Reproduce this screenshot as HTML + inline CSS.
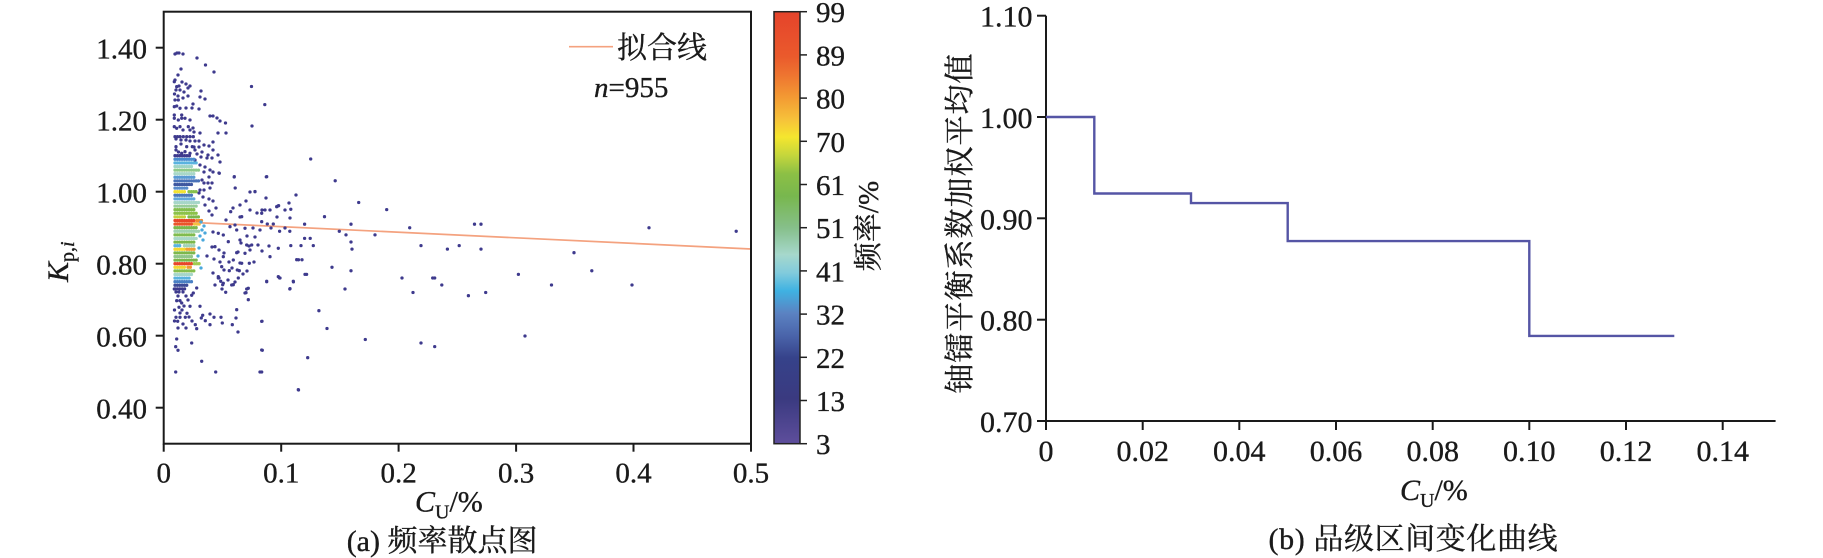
<!DOCTYPE html>
<html><head><meta charset="utf-8">
<style>
html,body{margin:0;padding:0;background:#fff;}
svg{display:block;}
text{font-family:"Liberation Serif","Noto Serif CJK SC",serif;fill:#1a1a1a;stroke:#1a1a1a;stroke-width:0.35;}
</style></head><body>
<svg width="1823" height="558" viewBox="0 0 1823 558" xmlns="http://www.w3.org/2000/svg">
<defs>
<linearGradient id="cb" x1="0" y1="0" x2="0" y2="1">
<stop offset="0" stop-color="#e5432b"/>
<stop offset="0.104" stop-color="#ea5a2c"/>
<stop offset="0.146" stop-color="#ee7430"/>
<stop offset="0.198" stop-color="#f39a33"/>
<stop offset="0.25" stop-color="#f6c23a"/>
<stop offset="0.29" stop-color="#f5e62e"/>
<stop offset="0.333" stop-color="#c4d63c"/>
<stop offset="0.375" stop-color="#8cc045"/>
<stop offset="0.427" stop-color="#78b74e"/>
<stop offset="0.5" stop-color="#86bf8a"/>
<stop offset="0.5625" stop-color="#a6d8cc"/>
<stop offset="0.604" stop-color="#82cbdc"/>
<stop offset="0.646" stop-color="#3fb2e2"/>
<stop offset="0.698" stop-color="#5b82c2"/>
<stop offset="0.75" stop-color="#4a64aa"/>
<stop offset="0.802" stop-color="#36428a"/>
<stop offset="0.896" stop-color="#3a3a80"/>
<stop offset="1" stop-color="#5e4e9c"/>
</linearGradient>
</defs>

<!-- ===== LEFT CHART ===== -->
<line x1="175" y1="221.6" x2="751" y2="249" stroke="#f4a27f" stroke-width="1.7"/>

<path fill="none" stroke="#3e3a8d" stroke-width="3.3" stroke-linecap="round" d="
M175,54h0M177,53h0M179,53h0M183,54h0M197,58h0M205.5,65h0M214,72h0M181,69h0M178,75h0M175,80h0M174.3,81.7h0M176.7,86.7h0M179,86h0M182,82h0M186,84h0M188,88h0M190,86h0M180,90h0M176,90h0M184,92h0M174.5,94h0M178,96h0M183,98h0M188,96h0M200,97h0M205,99h0M201,91h0M175,100h0M178.3,100h0M174.3,106.7h0M176.7,106h0M180,108.3h0M186,108h0M192,108h0M193,104h0M199,109h0M174.3,115h0M181.7,115h0M174.3,118.3h0M178.3,120h0M181.7,118.3h0M185,118.3h0M190,120h0M210,116h0M213,116h0M217,118h0M220,121h0M225.5,123h0M174.3,126.7h0M176.7,128.3h0M180,126.7h0M188.3,126.7h0M190,130h0M193,128h0M183,130h0M226,133h0M218,133h0M194,132h0M200,133h0M175,136.7h0M177.5,136.7h0M180,136.7h0M183.3,136.7h0M186.7,136.7h0M190,136.7h0M193.3,136.7h0M176,139h0M181,140h0M186,140h0M190,141h0M195,141h0M199,141h0M176,146.7h0M181,144h0M186.7,146.7h0M192.3,146.7h0M194,147h0M199,147h0M204,145h0M209,146h0M213,142h0M195,150h0M181.7,153.3h0M185,151.7h0M190,153.3h0M176,150h0M178.5,152h0M197,154h0M202,152h0M208,155h0M213,150h0M218,155h0M201,157h0M207,158h0M212,158h0M220,162h0M195,160h0M200,165h0M205,167h0M210,170h0M204,172h0M213,172h0M219,173h0M209,177h0M202,180h0M204,183h0M208,183h0M212,183h0M200,190h0M204,190h0M210,188h0M199,193h0M203,197h0M209,199h0M213,201h0M216,208h0M205,205h0M209,211h0M212,215h0M251.5,86.5h0M264.8,104.6h0M252,126h0M266.3,176.9h0M255,191.5h0M235.2,188h0M234.2,177h0
M175,155.7h0M177.4,155.7h0M179.8,155.7h0M182.2,155.7h0M184.6,155.7h0M187,155.7h0M189.4,155.7h0
M234.3,176.7h0M266.7,176.7h0M255,191.7h0M219.3,173.3h0M240,205h0M250,210h0M261.7,213.3h0M265,210h0M276.7,206.7h0M230.7,211.7h0M226,220h0M241.7,216.7h0M230,226.7h0M236.7,230h0M245,228.3h0M261.7,221.7h0M267.3,224h0M273.3,224h0M218.3,233.3h0M223.3,235h0M228.3,241.7h0M240,240h0M246.7,245h0M251.7,245h0M236.7,252.7h0M245,253.3h0M250,250h0M270,256.7h0M278.3,248.3h0M215,246.7h0M223.3,256.7h0M233.3,260h0M241.7,263.3h0M249.3,263.3h0M221.7,266.7h0M229.3,270.7h0M237.3,270h0M278.3,276.7h0M218.3,276.7h0M223.3,283.3h0M231.7,285h0M248.3,288.3h0M266.7,281.7h0M246,292.7h0
M233,208h0M246,201h0M262,210h0M266,198h0M250,192h0M240,217h0M257,213h0M270,210h0M278,206h0M285,210h0M289,203h0M296,195h0M290,218h0M271,228h0M285,228h0M260,230h0M253,228h0M235,225h0M213,232h0M247,236h0M255,237h0M241,243h0M249,246h0M258,245h0M238,252h0M262,251h0M269,246h0M212,247h0M219,250h0M224,253h0M207,256h0M214,259h0M220,262h0M229,262h0M240,263h0M254,262h0M224,270h0M232,268h0M247,271h0M213,273h0M219,278h0M228,280h0M235,282h0M215,285h0M222,289h0M243,274h0
M310.7,159h0M296,195h0M335.2,180.8h0M358.7,202.5h0M386.7,209.6h0M324.5,216.7h0M278.6,205.7h0M290.8,209.3h0M351,224.2h0M339.3,231.3h0M375,234.9h0M351,242h0M346,234.9h0M352,249.1h0M310.2,238.4h0M304.6,238.4h0M301,245.6h0M313.3,245.6h0M290.8,245.6h0M289.8,231.3h0M279.6,231.3h0M304.6,224.2h0M277,217h0M332,267.3h0M351,270.8h0M345,289h0M298.5,259.8h0M302,259.8h0M305,274.4h0M306.6,274.4h0M289.8,289h0M293.4,281.9h0M279.6,278h0M318.9,310.7h0M327,328.5h0M307.7,357.7h0M298.5,390h0M261.7,372h0M261.7,350h0M261.7,321.4h0M402,278h0M413,292.5h0M432.7,278h0M434.7,278h0M441.8,285h0M468.4,295.7h0M485.7,292.5h0M518.4,274.4h0M551.5,285h0M591.8,270.8h0M632,285h0M525,336h0M421,343h0M434.7,346.6h0M365.3,339.5h0M409.7,227.8h0M474.5,224.2h0M481,224.2h0M421,245.6h0M447.4,249.1h0M459.2,245.6h0M481,249.1h0M574,252.7h0M649,227.8h0M736.2,231.3h0
M174.3,289h0M176.7,300.7h0M179,307.3h0M180,300.7h0M181.7,303h0M176,317.3h0M177.7,321.3h0M180,317.3h0M176.7,339h0M175.7,346.7h0M178,350.3h0M175.7,372h0M191.7,343h0M201.7,361.3h0M215.7,372h0M185.3,317.3h0M187,313.3h0M190,306.3h0M191.7,295.3h0M193.3,293h0M196.7,288h0M200,306.3h0M202.7,315.3h0M195.3,324.7h0M196.7,328.7h0M201.3,318h0M205.3,320.7h0M210,324.7h0M210,314h0M214,317.3h0M221,317.3h0M222.3,323h0M232.3,324.7h0M236,318h0M236.7,309.7h0M238,332h0M239.3,270.7h0M245,293h0M246.7,289h0M248.3,299.7h0M218.3,278h0M220.7,281.3h0M222.7,284.7h0M225.7,292.3h0M233.3,284.7h0M238.3,278h0M262,321.3h0M262.3,350.3h0M260,372h0M266.7,281.3h0M280,278h0M290,288.7h0M293.3,281.3h0M296.7,259.7h0M298.3,389.7h0
M176,292h0M179,292h0M183,292h0M186,296h0M178,296h0M174.5,310h0M182,310h0M184,306h0M188,300h0M180,313h0M174.5,321h0M183,324h0M186,328h0M178,328h0M189,317h0M192,321h0
M175,288.9h0M177.4,288.9h0M179.8,288.9h0M182.2,288.9h0M184.6,288.9h0
"/>

<g fill="none" stroke-width="3.3" stroke-linecap="round" stroke-dasharray="0 2.35">
<line x1="175" x2="195" y1="159.3" y2="159.3" stroke="#4a8ccf"/>
<line x1="175" x2="198" y1="162.9" y2="162.9" stroke="#5ab3df"/>
<line x1="175" x2="192" y1="166.5" y2="166.5" stroke="#9fd4c6"/>
<line x1="175" x2="200" y1="170.1" y2="170.1" stroke="#8fca8c"/>
<line x1="175" x2="195" y1="173.7" y2="173.7" stroke="#a8d8c8"/>
<line x1="175" x2="195" y1="177.3" y2="177.3" stroke="#5a9ad4"/>
<line x1="175" x2="200" y1="180.9" y2="180.9" stroke="#4a72b8"/>
<line x1="175" x2="192" y1="184.5" y2="184.5" stroke="#3f58a0"/>
<line x1="175" x2="188" y1="188.1" y2="188.1" stroke="#5a8ccb"/>
<line x1="175" x2="186" y1="191.7" y2="191.7" stroke="#f2e232"/>
<line x1="189" x2="198" y1="191.7" y2="191.7" stroke="#86c04c"/>
<line x1="175" x2="192" y1="195.3" y2="195.3" stroke="#4a78bc"/>
<line x1="175" x2="196" y1="198.9" y2="198.9" stroke="#62a8da"/>
<line x1="175" x2="200" y1="202.5" y2="202.5" stroke="#a6d6c8"/>
<line x1="175" x2="198" y1="206.1" y2="206.1" stroke="#98cc9c"/>
<line x1="175" x2="196" y1="209.7" y2="209.7" stroke="#84be4e"/>
<line x1="175" x2="198" y1="213.3" y2="213.3" stroke="#8cc24a"/>
<line x1="175" x2="186" y1="216.9" y2="216.9" stroke="#c0d23e"/>
<line x1="189" x2="200" y1="216.9" y2="216.9" stroke="#7cb84c"/>
<line x1="175" x2="195" y1="220.5" y2="220.5" stroke="#e8472a"/>
<line x1="196.8" x2="202" y1="220.5" y2="220.5" stroke="#f08a30"/>
<line x1="175" x2="192" y1="224.1" y2="224.1" stroke="#ea562b"/>
<line x1="194.5" x2="200" y1="224.1" y2="224.1" stroke="#f5c040"/>
<line x1="175" x2="198" y1="227.7" y2="227.7" stroke="#7cb84c"/>
<line x1="175" x2="200" y1="231.3" y2="231.3" stroke="#a0d2b0"/>
<line x1="175" x2="196" y1="234.9" y2="234.9" stroke="#80bc4e"/>
<line x1="175" x2="198" y1="238.5" y2="238.5" stroke="#a8d8c8"/>
<line x1="175" x2="195" y1="242.1" y2="242.1" stroke="#7cb84c"/>
<line x1="175" x2="182" y1="245.7" y2="245.7" stroke="#5ab3df"/>
<line x1="184.4" x2="196" y1="245.7" y2="245.7" stroke="#a0d2b8"/>
<line x1="175" x2="185" y1="249.3" y2="249.3" stroke="#f5d830"/>
<line x1="187" x2="195" y1="249.3" y2="249.3" stroke="#f3a033"/>
<line x1="175" x2="196" y1="252.9" y2="252.9" stroke="#7cb84c"/>
<line x1="175" x2="192" y1="256.5" y2="256.5" stroke="#90c68a"/>
<line x1="175" x2="197" y1="260.1" y2="260.1" stroke="#7cb84c"/>
<line x1="175" x2="192" y1="263.7" y2="263.7" stroke="#e8472a"/>
<line x1="194.4" x2="200" y1="263.7" y2="263.7" stroke="#a0cc50"/>
<line x1="175" x2="186" y1="267.3" y2="267.3" stroke="#f2d832"/>
<line x1="188" x2="192" y1="267.3" y2="267.3" stroke="#f09a33"/>
<line x1="175" x2="195" y1="270.9" y2="270.9" stroke="#84be4e"/>
<line x1="175" x2="192" y1="274.5" y2="274.5" stroke="#a6d6c8"/>
<line x1="175" x2="190" y1="278.1" y2="278.1" stroke="#5ab3df"/>
<line x1="175" x2="192" y1="281.7" y2="281.7" stroke="#4a80c4"/>
<line x1="175" x2="188" y1="285.3" y2="285.3" stroke="#3e4a96"/>
</g>
<path fill="none" stroke="#4aa8dc" stroke-width="3.3" stroke-linecap="round" d="M201,222h0M204,226h0M202,230h0M205,233h0M200,236h0M203,240h0M199,248h0M198,256h0M201,268h0"/>

<rect x="163.7" y="11.7" width="587.3" height="432" fill="none" stroke="#1a1a1a" stroke-width="2"/>

<g stroke="#1a1a1a" stroke-width="2">
<line x1="155.7" x2="163.7" y1="47.7" y2="47.7"/>
<line x1="155.7" x2="163.7" y1="119.7" y2="119.7"/>
<line x1="155.7" x2="163.7" y1="191.7" y2="191.7"/>
<line x1="155.7" x2="163.7" y1="263.7" y2="263.7"/>
<line x1="155.7" x2="163.7" y1="335.7" y2="335.7"/>
<line x1="155.7" x2="163.7" y1="407.7" y2="407.7"/>
<line x1="163.7" x2="163.7" y1="443.7" y2="451.7"/>
<line x1="281.2" x2="281.2" y1="443.7" y2="451.7"/>
<line x1="398.6" x2="398.6" y1="443.7" y2="451.7"/>
<line x1="516.1" x2="516.1" y1="443.7" y2="451.7"/>
<line x1="633.5" x2="633.5" y1="443.7" y2="451.7"/>
<line x1="751" x2="751" y1="443.7" y2="451.7"/>
</g>
<g font-size="29" text-anchor="end">
<text x="147" y="58.3">1.40</text>
<text x="147" y="130.3">1.20</text>
<text x="147" y="202.3">1.00</text>
<text x="147" y="274.3">0.80</text>
<text x="147" y="346.3">0.60</text>
<text x="147" y="418.3">0.40</text>
</g>
<g font-size="29" text-anchor="middle">
<text x="163.7" y="482.5">0</text>
<text x="281.2" y="482.5">0.1</text>
<text x="398.6" y="482.5">0.2</text>
<text x="516.1" y="482.5">0.3</text>
<text x="633.5" y="482.5">0.4</text>
<text x="751" y="482.5">0.5</text>
</g>

<text transform="translate(68,282) rotate(-90)" font-size="30"><tspan font-style="italic">K</tspan><tspan font-size="20" dy="6">p,</tspan><tspan font-size="20" font-style="italic">i</tspan></text>

<text x="415" y="511.7" font-size="30"><tspan font-style="italic">C</tspan><tspan font-size="20" dy="7">U</tspan><tspan dy="-7">/%</tspan></text>

<line x1="569" x2="613" y1="46.7" y2="46.7" stroke="#f4a27f" stroke-width="1.7"/>
<text x="617" y="58" font-size="30">拟合线</text>
<text x="594" y="97" font-size="29"><tspan font-style="italic">n</tspan>=955</text>

<rect x="774" y="11.7" width="26" height="432" fill="url(#cb)" stroke="#222" stroke-width="1.5"/>
<g stroke="#222" stroke-width="1.5">
<line x1="800" x2="807" y1="11.7" y2="11.7"/>
<line x1="800" x2="807" y1="54.9" y2="54.9"/>
<line x1="800" x2="807" y1="98.1" y2="98.1"/>
<line x1="800" x2="807" y1="141.3" y2="141.3"/>
<line x1="800" x2="807" y1="184.5" y2="184.5"/>
<line x1="800" x2="807" y1="227.7" y2="227.7"/>
<line x1="800" x2="807" y1="270.9" y2="270.9"/>
<line x1="800" x2="807" y1="314.1" y2="314.1"/>
<line x1="800" x2="807" y1="357.3" y2="357.3"/>
<line x1="800" x2="807" y1="400.5" y2="400.5"/>
<line x1="800" x2="807" y1="443.7" y2="443.7"/>
</g>
<g font-size="29">
<text x="816" y="22.2">99</text>
<text x="816" y="65.4">89</text>
<text x="816" y="108.6">80</text>
<text x="816" y="151.8">70</text>
<text x="816" y="195">61</text>
<text x="816" y="238.2">51</text>
<text x="816" y="281.4">41</text>
<text x="816" y="324.6">32</text>
<text x="816" y="367.8">22</text>
<text x="816" y="411">13</text>
<text x="816" y="454.2">3</text>
</g>
<text transform="translate(878,226) rotate(-90)" font-size="29" text-anchor="middle">频率/%</text>

<text x="346.7" y="551" font-size="30">(a) 频率散点图</text>

<!-- ===== RIGHT CHART ===== -->
<g stroke="#1a1a1a" stroke-width="2" fill="none">
<line x1="1046" x2="1046" y1="15.7" y2="422"/>
<line x1="1045" x2="1775.6" y1="421" y2="421"/>
<line x1="1037" x2="1046" y1="15.7" y2="15.7"/>
<line x1="1037" x2="1046" y1="117" y2="117"/>
<line x1="1037" x2="1046" y1="218.3" y2="218.3"/>
<line x1="1037" x2="1046" y1="319.7" y2="319.7"/>
<line x1="1037" x2="1046" y1="421" y2="421"/>
<line x1="1046" x2="1046" y1="421" y2="430"/>
<line x1="1142.7" x2="1142.7" y1="421" y2="430"/>
<line x1="1239.3" x2="1239.3" y1="421" y2="430"/>
<line x1="1336" x2="1336" y1="421" y2="430"/>
<line x1="1432.7" x2="1432.7" y1="421" y2="430"/>
<line x1="1529.3" x2="1529.3" y1="421" y2="430"/>
<line x1="1626" x2="1626" y1="421" y2="430"/>
<line x1="1722.7" x2="1722.7" y1="421" y2="430"/>
</g>
<g font-size="30" text-anchor="end">
<text x="1032.5" y="26.7">1.10</text>
<text x="1032.5" y="128">1.00</text>
<text x="1032.5" y="229.3">0.90</text>
<text x="1032.5" y="330.7">0.80</text>
<text x="1032.5" y="432">0.70</text>
</g>
<g font-size="30" text-anchor="middle">
<text x="1046" y="461">0</text>
<text x="1142.7" y="461">0.02</text>
<text x="1239.3" y="461">0.04</text>
<text x="1336" y="461">0.06</text>
<text x="1432.7" y="461">0.08</text>
<text x="1529.3" y="461">0.10</text>
<text x="1626" y="461">0.12</text>
<text x="1722.7" y="461">0.14</text>
</g>

<path d="M1046,117H1094.3V193.5H1191V203.1H1287.7V241.1H1529.3V335.9H1674.3" fill="none" stroke="#5555a5" stroke-width="2.4"/>

<text transform="translate(970,223) rotate(-90)" font-size="30" text-anchor="middle" letter-spacing="1">铀镭平衡系数加权平均值</text>

<text x="1400" y="500" font-size="30"><tspan font-style="italic">C</tspan><tspan font-size="20" dy="7">U</tspan><tspan dy="-7">/%</tspan></text>

<text x="1268.5" y="549" font-size="30" letter-spacing="0.6">(b) 品级区间变化曲线</text>
</svg>
</body></html>
